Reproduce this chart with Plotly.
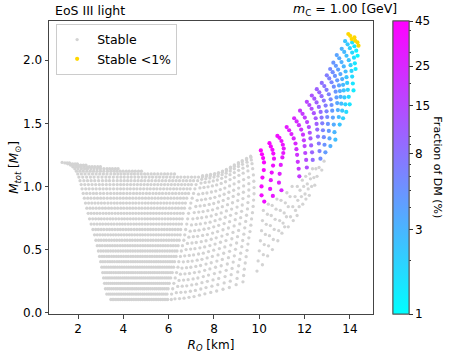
import numpy as np
import plotly.graph_objects as go

# ── Datos ─────────────────────────────────────────────────────────────────────
# Niveles de masa (filas) compartidos por las columnas de la parte izquierda
LEVELS = [1.190, 1.186, 1.179, 1.169, 1.156, 1.140, 1.121, 1.099, 1.074, 1.046,
          1.015, 0.981, 0.945, 0.907, 0.868, 0.828, 0.787, 0.744, 0.702, 0.659,
          0.617, 0.574, 0.531, 0.489, 0.446, 0.404, 0.361, 0.318, 0.276, 0.233,
          0.190, 0.148, 0.105]

# índice de nivel donde empieza cada columna y radios R_O de sus puntos
FAN_START = [0, 1, 2, 3, 4, 4, 5, 5, 6, 6, 6, 7, 7, 7, 7, 8, 8,
             1, 2, 3, 4, 4, 5, 5, 6, 6, 6, 7, 7, 7, 7, 8, 8, 8]
FAN_R = [
    [1.30, 1.42, 1.55, 1.67, 1.77, 1.86, 1.93, 1.99, 2.04, 2.09, 2.14, 2.18, 2.23, 2.28, 2.33, 2.39, 2.45,
     2.51, 2.58, 2.66, 2.73, 2.79, 2.85, 2.90, 2.95, 3.00, 3.05, 3.09, 3.13, 3.17, 3.21, 3.27, 3.45],
    [1.62, 1.76, 1.90, 2.02, 2.15, 2.23, 2.31, 2.38, 2.42, 2.46, 2.49, 2.53, 2.57, 2.61, 2.66, 2.71,
     2.78, 2.84, 2.90, 2.97, 3.02, 3.07, 3.12, 3.16, 3.20, 3.25, 3.28, 3.32, 3.35, 3.38, 3.44, 3.56],
    [1.97, 2.12, 2.26, 2.42, 2.54, 2.64, 2.71, 2.74, 2.78, 2.80, 2.82, 2.86, 2.89, 2.94, 2.97,
     3.03, 3.09, 3.14, 3.20, 3.25, 3.30, 3.33, 3.37, 3.41, 3.45, 3.47, 3.50, 3.53, 3.56, 3.60, 3.72],
    [2.35, 2.50, 2.71, 2.84, 2.96, 3.06, 3.08, 3.09, 3.11, 3.13, 3.14, 3.17, 3.21, 3.24, 3.29,
     3.34, 3.39, 3.44, 3.48, 3.52, 3.55, 3.58, 3.61, 3.64, 3.67, 3.69, 3.71, 3.73, 3.77, 3.88],
    [2.74, 2.99, 3.14, 3.28, 3.39, 3.39, 3.41, 3.41, 3.44, 3.44, 3.46, 3.48, 3.50, 3.54, 3.59,
     3.63, 3.67, 3.71, 3.74, 3.77, 3.79, 3.82, 3.84, 3.86, 3.87, 3.89, 3.90, 3.93, 4.04],
    [2.99, 3.28, 3.45, 3.61, 3.73, 3.73, 3.73, 3.73, 3.73, 3.72, 3.73, 3.75, 3.77, 3.80, 3.84,
     3.87, 3.91, 3.94, 3.97, 3.99, 4.01, 4.02, 4.04, 4.05, 4.06, 4.07, 4.08, 4.10, 4.20],
    [3.52, 3.72, 3.90, 4.04, 4.04, 4.02, 4.02, 4.01, 4.00, 4.00, 4.02, 4.03, 4.05, 4.08, 4.11,
     4.15, 4.17, 4.19, 4.20, 4.22, 4.22, 4.24, 4.24, 4.24, 4.24, 4.25, 4.27, 4.36],
    [3.77, 3.99, 4.20, 4.35, 4.34, 4.32, 4.31, 4.30, 4.28, 4.28, 4.29, 4.29, 4.31, 4.33, 4.35,
     4.38, 4.40, 4.41, 4.42, 4.43, 4.43, 4.44, 4.43, 4.43, 4.42, 4.42, 4.43, 4.52],
    [4.26, 4.49, 4.67, 4.65, 4.62, 4.60, 4.59, 4.56, 4.55, 4.55, 4.55, 4.56, 4.58, 4.60, 4.62,
     4.63, 4.63, 4.64, 4.64, 4.63, 4.63, 4.63, 4.61, 4.60, 4.59, 4.60, 4.68],
    [4.53, 4.79, 4.98, 4.95, 4.92, 4.90, 4.87, 4.84, 4.83, 4.82, 4.81, 4.82, 4.83, 4.84, 4.85,
     4.86, 4.86, 4.85, 4.85, 4.84, 4.83, 4.82, 4.80, 4.78, 4.77, 4.76, 4.84],
    [4.80, 5.08, 5.29, 5.26, 5.22, 5.19, 5.16, 5.12, 5.10, 5.09, 5.07, 5.07, 5.08, 5.08, 5.09,
     5.09, 5.08, 5.07, 5.06, 5.04, 5.03, 5.01, 4.98, 4.96, 4.94, 4.93, 5.00],
    [5.37, 5.60, 5.57, 5.52, 5.48, 5.45, 5.40, 5.37, 5.36, 5.33, 5.33, 5.33, 5.32, 5.33, 5.32,
     5.30, 5.29, 5.27, 5.24, 5.23, 5.20, 5.17, 5.14, 5.11, 5.10, 5.16],
    [5.67, 5.91, 5.87, 5.82, 5.78, 5.73, 5.68, 5.65, 5.63, 5.59, 5.58, 5.58, 5.56, 5.56, 5.55,
     5.53, 5.50, 5.48, 5.45, 5.43, 5.39, 5.35, 5.32, 5.29, 5.26, 5.32],
    [5.96, 6.23, 6.18, 6.12, 6.07, 6.02, 5.96, 5.92, 5.89, 5.85, 5.84, 5.83, 5.81, 5.80, 5.78,
     5.75, 5.72, 5.69, 5.65, 5.62, 5.59, 5.54, 5.50, 5.46, 5.43, 5.48],
    [6.26, 6.54, 6.48, 6.42, 6.36, 6.31, 6.24, 6.20, 6.16, 6.11, 6.09, 6.08, 6.05, 6.03, 6.01,
     5.97, 5.94, 5.90, 5.86, 5.82, 5.78, 5.72, 5.68, 5.63, 5.59, 5.64],
    [6.85, 6.79, 6.72, 6.66, 6.60, 6.52, 6.47, 6.43, 6.38, 6.35, 6.33, 6.29, 6.27, 6.24, 6.20,
     6.16, 6.12, 6.06, 6.02, 5.97, 5.91, 5.86, 5.81, 5.76, 5.80],
    [7.16, 7.10, 7.01, 6.95, 6.88, 6.80, 6.74, 6.70, 6.64, 6.60, 6.57, 6.53, 6.51, 6.47, 6.42,
     6.37, 6.33, 6.26, 6.22, 6.16, 6.09, 6.03, 5.98, 5.93, 5.96],
    # columnas intermedias
    [1.52, 1.66, 1.79, 1.90, 2.00, 2.08, 2.15, 2.21, 2.26, 2.30, 2.34, 2.38, 2.43, 2.47, 2.53, 2.58,
     2.65, 2.71, 2.78, 2.85, 2.91, 2.96, 3.01, 3.06, 3.10, 3.15, 3.19, 3.23, 3.26, 3.30, 3.36, 3.51],
    [1.87, 2.01, 2.14, 2.29, 2.39, 2.48, 2.55, 2.58, 2.62, 2.65, 2.68, 2.72, 2.75, 2.80, 2.84,
     2.91, 2.97, 3.02, 3.09, 3.14, 3.19, 3.23, 3.27, 3.31, 3.35, 3.38, 3.41, 3.44, 3.47, 3.52, 3.64],
    [2.24, 2.38, 2.57, 2.69, 2.80, 2.89, 2.91, 2.94, 2.96, 2.98, 3.00, 3.03, 3.08, 3.11, 3.16,
     3.22, 3.27, 3.32, 3.37, 3.41, 3.44, 3.48, 3.51, 3.55, 3.57, 3.60, 3.62, 3.65, 3.69, 3.80],
    [2.62, 2.85, 2.99, 3.12, 3.23, 3.24, 3.25, 3.26, 3.29, 3.29, 3.32, 3.35, 3.37, 3.42, 3.47,
     3.51, 3.56, 3.60, 3.63, 3.66, 3.69, 3.72, 3.74, 3.77, 3.78, 3.80, 3.82, 3.85, 3.96],
    [2.87, 3.14, 3.30, 3.45, 3.56, 3.56, 3.57, 3.57, 3.59, 3.58, 3.60, 3.62, 3.64, 3.67, 3.72,
     3.75, 3.79, 3.83, 3.86, 3.88, 3.90, 3.92, 3.94, 3.96, 3.97, 3.98, 3.99, 4.02, 4.12],
    [3.40, 3.59, 3.76, 3.89, 3.89, 3.88, 3.88, 3.87, 3.86, 3.87, 3.89, 3.90, 3.93, 3.96, 3.99,
     4.03, 4.06, 4.08, 4.10, 4.12, 4.12, 4.14, 4.15, 4.15, 4.16, 4.17, 4.19, 4.28],
    [3.65, 3.86, 4.05, 4.20, 4.19, 4.17, 4.17, 4.16, 4.14, 4.14, 4.16, 4.16, 4.18, 4.21, 4.23,
     4.27, 4.29, 4.30, 4.31, 4.33, 4.33, 4.34, 4.34, 4.34, 4.33, 4.34, 4.35, 4.44],
    [4.13, 4.35, 4.51, 4.50, 4.47, 4.46, 4.45, 4.42, 4.42, 4.42, 4.42, 4.44, 4.46, 4.48, 4.50,
     4.52, 4.52, 4.53, 4.54, 4.53, 4.54, 4.53, 4.52, 4.51, 4.51, 4.52, 4.60],
    [4.40, 4.64, 4.83, 4.80, 4.77, 4.75, 4.73, 4.70, 4.69, 4.69, 4.68, 4.69, 4.71, 4.72, 4.74,
     4.75, 4.75, 4.75, 4.75, 4.74, 4.73, 4.73, 4.71, 4.69, 4.68, 4.68, 4.76],
    [4.67, 4.94, 5.14, 5.11, 5.07, 5.05, 5.02, 4.98, 4.97, 4.96, 4.94, 4.95, 4.96, 4.96, 4.97,
     4.98, 4.97, 4.96, 4.96, 4.94, 4.93, 4.92, 4.89, 4.87, 4.86, 4.85, 4.92],
    [5.23, 5.45, 5.42, 5.37, 5.34, 5.31, 5.26, 5.24, 5.23, 5.20, 5.20, 5.21, 5.20, 5.21, 5.21,
     5.19, 5.18, 5.17, 5.14, 5.13, 5.11, 5.08, 5.05, 5.03, 5.02, 5.08],
    [5.52, 5.76, 5.72, 5.67, 5.63, 5.59, 5.54, 5.51, 5.50, 5.46, 5.46, 5.46, 5.44, 5.45, 5.44,
     5.42, 5.40, 5.38, 5.35, 5.33, 5.30, 5.26, 5.23, 5.20, 5.18, 5.24],
    [5.82, 6.07, 6.03, 5.97, 5.93, 5.88, 5.82, 5.79, 5.76, 5.72, 5.71, 5.71, 5.69, 5.68, 5.67,
     5.64, 5.61, 5.59, 5.55, 5.53, 5.49, 5.45, 5.41, 5.38, 5.35, 5.40],
    [6.11, 6.39, 6.33, 6.27, 6.22, 6.17, 6.10, 6.06, 6.03, 5.98, 5.97, 5.96, 5.93, 5.92, 5.90,
     5.86, 5.83, 5.80, 5.76, 5.72, 5.69, 5.63, 5.59, 5.55, 5.51, 5.56],
    [6.70, 6.64, 6.57, 6.51, 6.46, 6.38, 6.34, 6.30, 6.25, 6.22, 6.21, 6.17, 6.15, 6.13, 6.09,
     6.05, 6.01, 5.96, 5.92, 5.88, 5.82, 5.77, 5.72, 5.68, 5.72],
    [7.01, 6.95, 6.87, 6.81, 6.74, 6.66, 6.61, 6.57, 6.51, 6.48, 6.45, 6.41, 6.39, 6.36, 6.31,
     6.27, 6.23, 6.16, 6.12, 6.07, 6.00, 5.95, 5.90, 5.85, 5.88],
    [7.32, 7.28, 7.21, 7.16, 7.10, 7.04, 6.98, 6.94, 6.88, 6.84, 6.80, 6.75, 6.71, 6.67, 6.61,
     6.56, 6.52, 6.45, 6.41, 6.35, 6.29, 6.23, 6.18, 6.13, 6.12],
]

# columnas de la zona central-derecha (gris)
MID_R = [
    [7.50, 7.49, 7.46, 7.43, 7.38, 7.32, 7.26, 7.20, 7.13, 7.07, 7.01, 6.95, 6.89, 6.83, 6.77, 6.71, 6.65, 6.59, 6.52, 6.46, 6.40, 6.34, 6.28],
    [7.68, 7.67, 7.64, 7.61, 7.56, 7.51, 7.45, 7.39, 7.33, 7.27, 7.21, 7.15, 7.09, 7.03, 6.97, 6.91, 6.85, 6.79, 6.72, 6.66, 6.60, 6.54, 6.48],
    [7.85, 7.84, 7.82, 7.79, 7.74, 7.69, 7.63, 7.58, 7.52, 7.46, 7.40, 7.34, 7.28, 7.22, 7.16, 7.10, 7.04, 6.98, 6.92, 6.86, 6.80, 6.74, 6.68],
    [8.03, 8.02, 8.00, 7.97, 7.93, 7.89, 7.84, 7.79, 7.73, 7.67, 7.62, 7.56, 7.50, 7.44, 7.38, 7.32, 7.26, 7.20, 7.14, 7.08, 7.02, 6.96, 6.90],
    [8.20, 8.19, 8.18, 8.15, 8.12, 8.08, 8.04, 7.99, 7.94, 7.88, 7.83, 7.77, 7.71, 7.65, 7.59, 7.53, 7.47, 7.41, 7.35, 7.29, 7.23, 7.18, 7.12],
    [8.38, 8.37, 8.36, 8.34, 8.32, 8.28, 8.25, 8.20, 8.16, 8.10, 8.05, 7.99, 7.94, 7.88, 7.82, 7.76, 7.70, 7.65, 7.59, 7.53, 7.47, 7.42, 7.36],
    [8.55, 8.55, 8.54, 8.52, 8.51, 8.48, 8.45, 8.41, 8.37, 8.32, 8.27, 8.21, 8.16, 8.10, 8.05, 7.99, 7.93, 7.88, 7.82, 7.76, 7.71, 7.65, 7.60],
    [8.73, 8.73, 8.72, 8.71, 8.71, 8.69, 8.66, 8.63, 8.60, 8.55, 8.50, 8.45, 8.40, 8.35, 8.29, 8.24, 8.18, 8.13, 8.07, 8.02, 7.96, 7.91, 7.86],
    [8.90, 8.90, 8.90, 8.90, 8.90, 8.89, 8.87, 8.85, 8.82, 8.78, 8.73, 8.69, 8.64, 8.59, 8.53, 8.48, 8.43, 8.37, 8.32, 8.27, 8.21, 8.17, 8.12],
    [9.08, 9.08, 9.08, 9.09, 9.10, 9.10, 9.09, 9.08, 9.05, 9.02, 8.98, 8.94, 8.89, 8.84, 8.79, 8.74, 8.69, 8.64, 8.59, 8.54, 8.49, 8.45, 8.40],
    [9.25, 9.25, 9.26, 9.28, 9.29, 9.31, 9.31, 9.30, 9.28, 9.25, 9.22, 9.18, 9.14, 9.09, 9.04, 9.00, 8.95, 8.90, 8.85, 8.80, 8.76, 8.72, 8.68],
    [9.44, 9.44, 9.46, 9.48, 9.50, 9.53, 9.54, 9.54, 9.53, 9.50, 9.48, 9.44, 9.40, 9.36, 9.32, 9.27, 9.23, 9.18, 9.14, 9.09, 9.05, 9.02, 8.98],
    [9.62, 9.63, 9.65, 9.68, 9.71, 9.74, 9.76, 9.77, 9.77, 9.75, 9.73, 9.70, 9.66, 9.63, 9.59, 9.54, 9.50, 9.46, 9.42, 9.38, 9.34, 9.31, 9.28],
]
MID_M = [
    [1.085, 1.075, 1.056, 1.027, 0.988, 0.939, 0.890, 0.841, 0.793, 0.744, 0.695, 0.646, 0.598, 0.549, 0.500, 0.451, 0.403, 0.354, 0.305, 0.256, 0.208, 0.159, 0.110],
    [1.090, 1.080, 1.061, 1.032, 0.992, 0.944, 0.894, 0.846, 0.797, 0.748, 0.699, 0.650, 0.602, 0.552, 0.504, 0.454, 0.406, 0.357, 0.308, 0.259, 0.210, 0.162, 0.112],
    [1.095, 1.085, 1.066, 1.036, 0.997, 0.948, 0.899, 0.850, 0.801, 0.752, 0.703, 0.654, 0.605, 0.556, 0.507, 0.458, 0.409, 0.360, 0.311, 0.262, 0.213, 0.164, 0.115],
    [1.102, 1.092, 1.074, 1.044, 1.004, 0.956, 0.906, 0.858, 0.808, 0.759, 0.710, 0.661, 0.612, 0.563, 0.514, 0.465, 0.416, 0.367, 0.318, 0.268, 0.220, 0.170, 0.122],
    [1.110, 1.100, 1.081, 1.051, 1.012, 0.963, 0.914, 0.865, 0.815, 0.766, 0.717, 0.668, 0.619, 0.570, 0.521, 0.472, 0.423, 0.374, 0.324, 0.275, 0.226, 0.177, 0.128],
    [1.122, 1.112, 1.093, 1.064, 1.024, 0.975, 0.926, 0.877, 0.828, 0.778, 0.729, 0.680, 0.631, 0.582, 0.532, 0.484, 0.434, 0.385, 0.336, 0.286, 0.238, 0.188, 0.139],
    [1.135, 1.125, 1.105, 1.076, 1.037, 0.987, 0.938, 0.889, 0.840, 0.790, 0.741, 0.692, 0.643, 0.593, 0.544, 0.495, 0.446, 0.396, 0.347, 0.298, 0.249, 0.199, 0.150],
    [1.152, 1.142, 1.122, 1.093, 1.054, 1.004, 0.954, 0.905, 0.856, 0.806, 0.756, 0.706, 0.657, 0.607, 0.558, 0.508, 0.458, 0.409, 0.360, 0.310, 0.260, 0.210, 0.161],
    [1.170, 1.160, 1.140, 1.110, 1.070, 1.020, 0.970, 0.921, 0.871, 0.821, 0.771, 0.721, 0.671, 0.621, 0.571, 0.521, 0.471, 0.422, 0.372, 0.322, 0.272, 0.222, 0.172],
    [1.188, 1.178, 1.158, 1.128, 1.088, 1.037, 0.987, 0.938, 0.888, 0.837, 0.787, 0.737, 0.687, 0.636, 0.586, 0.536, 0.486, 0.436, 0.386, 0.336, 0.286, 0.236, 0.186],
    [1.205, 1.195, 1.175, 1.145, 1.105, 1.054, 1.004, 0.954, 0.904, 0.853, 0.803, 0.753, 0.703, 0.652, 0.602, 0.552, 0.502, 0.451, 0.401, 0.351, 0.301, 0.250, 0.200],
    [1.222, 1.212, 1.192, 1.162, 1.123, 1.072, 1.022, 0.972, 0.923, 0.872, 0.822, 0.772, 0.723, 0.672, 0.622, 0.572, 0.523, 0.472, 0.422, 0.372, 0.323, 0.272, 0.222],
    [1.240, 1.230, 1.210, 1.180, 1.141, 1.091, 1.041, 0.991, 0.942, 0.892, 0.842, 0.792, 0.743, 0.693, 0.643, 0.593, 0.544, 0.494, 0.444, 0.394, 0.345, 0.295, 0.245],
]

# arcos coloreados (fracción de DM en %)
ARC_R = [
    [10.07, 10.12, 10.17, 10.21, 10.20, 10.14, 10.10, 10.10, 10.22],
    [10.45, 10.51, 10.58, 10.62, 10.65, 10.61, 10.55, 10.51, 10.48, 10.60],
    [10.80, 10.89, 10.98, 11.04, 11.08, 11.06, 11.02, 10.95, 10.90, 10.87, 10.98],
    [11.21, 11.32, 11.42, 11.52, 11.60, 11.64, 11.67, 11.70, 11.74, 11.77],
    [11.54, 11.65, 11.75, 11.85, 11.93, 11.97, 12.00, 12.03, 12.07, 12.10],
    [11.80, 11.91, 12.01, 12.11, 12.19, 12.23, 12.26, 12.29, 12.33, 12.36],
    [12.10, 12.21, 12.31, 12.41, 12.49, 12.53, 12.56, 12.59, 12.63, 12.66, 12.70],
    [12.32, 12.43, 12.53, 12.63, 12.71, 12.75, 12.78, 12.81, 12.85, 12.88, 12.92],
    [12.54, 12.65, 12.75, 12.85, 12.93, 12.97, 13.00, 13.03, 13.07, 13.10, 13.14],
    [12.76, 12.87, 12.97, 13.07, 13.15, 13.19, 13.22, 13.25, 13.29, 13.32, 13.36],
    [12.98, 13.09, 13.19, 13.29, 13.37, 13.41, 13.44, 13.47, 13.51, 13.55],
    [13.13, 13.24, 13.34, 13.44, 13.52, 13.56, 13.59, 13.62, 13.66, 13.70],
    [13.27, 13.38, 13.48, 13.58, 13.66, 13.70, 13.73, 13.76, 13.80, 13.84],
    [13.42, 13.53, 13.63, 13.73, 13.81, 13.85, 13.88, 13.91, 13.95, 13.99],
    [13.64, 13.75, 13.85, 13.95, 14.03, 14.07, 14.10, 14.13, 14.16],
    [13.79, 13.90, 14.00, 14.10, 14.18, 14.22, 14.25],
    [14.10, 14.20, 14.28, 14.34],
]
ARC_M = [
    [1.285, 1.255, 1.225, 1.190, 1.130, 1.070, 1.000, 0.930, 0.880],
    [1.343, 1.317, 1.290, 1.260, 1.220, 1.165, 1.110, 1.050, 0.980, 0.925],
    [1.400, 1.385, 1.360, 1.330, 1.300, 1.265, 1.230, 1.170, 1.100, 1.030, 0.970],
    [1.470, 1.445, 1.415, 1.380, 1.340, 1.295, 1.250, 1.195, 1.140, 1.080],
    [1.540, 1.515, 1.485, 1.450, 1.410, 1.365, 1.320, 1.265, 1.210, 1.150],
    [1.600, 1.575, 1.545, 1.510, 1.470, 1.425, 1.380, 1.325, 1.270, 1.210],
    [1.670, 1.645, 1.615, 1.580, 1.540, 1.495, 1.450, 1.395, 1.340, 1.280, 1.220],
    [1.720, 1.695, 1.665, 1.630, 1.590, 1.545, 1.500, 1.445, 1.390, 1.330, 1.270],
    [1.770, 1.745, 1.715, 1.680, 1.640, 1.595, 1.550, 1.495, 1.440, 1.380, 1.320],
    [1.820, 1.795, 1.765, 1.730, 1.690, 1.645, 1.600, 1.545, 1.490, 1.430, 1.370],
    [1.880, 1.855, 1.825, 1.790, 1.750, 1.705, 1.660, 1.605, 1.550, 1.490],
    [1.930, 1.905, 1.875, 1.840, 1.800, 1.755, 1.710, 1.655, 1.600, 1.540],
    [1.980, 1.955, 1.925, 1.890, 1.850, 1.805, 1.760, 1.705, 1.650, 1.590],
    [2.040, 2.015, 1.985, 1.950, 1.910, 1.865, 1.820, 1.765, 1.710, 1.650],
    [2.090, 2.065, 2.035, 2.000, 1.960, 1.915, 1.870, 1.815, 1.760],
    [2.150, 2.125, 2.095, 2.060, 2.020, 1.975, 1.930],
    [2.140, 2.110, 2.075, 2.035],
]
ARC_F = [
    [44, 43, 42, 41, 40, 39, 38, 37, 36],
    [40, 39, 38, 37, 36, 35, 34, 33, 32, 31],
    [36, 35, 34, 33, 32, 31, 30, 29, 28, 27, 26],
    [30, 29, 27, 26, 25, 23, 22, 21, 20, 19],
    [25, 24, 22, 21, 20, 18, 17, 16, 15, 14],
    [20, 19, 18, 17, 15, 14, 12, 11, 10, 9],
    [16, 15, 14, 13, 12, 11, 9.5, 8.5, 7.5, 6.5, 5.5],
    [13, 12, 11, 10, 9, 8, 7, 6.3, 5.6, 5, 4.4],
    [10.5, 10, 9, 8, 7.2, 6.4, 5.7, 5, 4.4, 3.8, 3.3],
    [8.5, 8, 7.2, 6.5, 5.8, 5.1, 4.5, 4, 3.5, 3, 2.6],
    [7, 6.5, 6, 5.4, 4.8, 4.2, 3.7, 3.2, 2.8, 2.4],
    [5.8, 5.4, 5, 4.5, 4, 3.5, 3.1, 2.7, 2.3, 2.0],
    [4.8, 4.5, 4.1, 3.7, 3.3, 2.9, 2.5, 2.2, 1.9, 1.7],
    [3.9, 3.6, 3.3, 3.0, 2.7, 2.4, 2.1, 1.9, 1.7, 1.5],
    [3.1, 2.9, 2.6, 2.4, 2.1, 1.9, 1.7, 1.5, 1.35],
    [2.4, 2.2, 2.0, 1.8, 1.6, 1.45, 1.3],
    [1.6, 1.45, 1.3, 1.15],
]

# puntos grises bajo la zona coloreada
TAIL_R = [
    [10.18, 10.14, 10.10, 10.05, 10.00, 9.95, 9.90],
    [10.40, 10.36, 10.31, 10.27, 10.22, 10.18, 10.14],
    [10.57, 10.53, 10.49, 10.45, 10.41, 10.37],
    [10.78, 10.74, 10.70, 10.66, 10.62, 10.58],
    [10.96, 10.93, 10.90, 10.86, 10.82],
    [11.22, 11.15, 11.10, 11.05, 11.00],
    [11.45, 11.36, 11.28, 11.20, 11.12],
    [11.68, 11.58, 11.48, 11.38, 11.28],
    [11.90, 11.80, 11.70, 11.60, 11.50],
    [12.05, 11.96, 11.86, 11.76, 11.67],
    [12.22, 12.12, 12.02, 11.92],
    [12.35, 12.26, 12.16, 12.06],
    [12.50, 12.41, 12.31, 12.21],
    [12.64, 12.55, 12.45],
    [12.86, 12.76],
]
TAIL_M = [
    [0.81, 0.73, 0.65, 0.57, 0.49, 0.41, 0.33],
    [0.86, 0.78, 0.70, 0.62, 0.54, 0.46, 0.38],
    [0.85, 0.77, 0.69, 0.61, 0.53, 0.45],
    [0.90, 0.82, 0.74, 0.66, 0.58, 0.50],
    [0.89, 0.81, 0.73, 0.65, 0.57],
    [0.95, 0.87, 0.79, 0.71, 0.63],
    [1.00, 0.92, 0.84, 0.76, 0.68],
    [1.00, 0.92, 0.84, 0.76, 0.68],
    [1.05, 0.97, 0.89, 0.81, 0.73],
    [1.08, 1.00, 0.92, 0.84, 0.77],
    [1.10, 1.02, 0.94, 0.86],
    [1.14, 1.06, 0.98, 0.90],
    [1.14, 1.07, 1.00, 0.93],
    [1.15, 1.08, 1.01],
    [1.20, 1.13],
]

# configuraciones estables con fracción < 1 %
YELLOW_R = [13.93, 14.01, 14.08, 14.20, 14.23, 14.33, 14.38]
YELLOW_M = [2.207, 2.193, 2.167, 2.180, 2.154, 2.141, 2.115]

CB_TICKS = [1, 3, 8, 15, 25, 45]
CB_MINOR = [2, 4, 5, 6, 7, 9, 10, 20, 30, 40]
F_MAX = 45

FONT = "DejaVu Sans"
CSCALE = [[0, "#00ffff"], [1, "#ff00ff"]]


def colorbar(tickvals, ticktext, ticklen):
    return dict(
        x=1.062, xanchor="left", y=0.5, yanchor="middle",
        len=1, lenmode="fraction", thickness=16, xpad=0, ypad=0,
        outlinecolor="#555", outlinewidth=1,
        tickvals=np.log10(tickvals), ticktext=ticktext,
        ticks="outside", ticklen=ticklen, tickcolor="#333",
        tickfont=dict(size=12, color="black"),
    )


def main():
    gray_r, gray_m = [], []
    for start, rs in zip(FAN_START, FAN_R):
        gray_r += rs
        gray_m += LEVELS[start:start + len(rs)]
    for rs, ms in zip(MID_R + TAIL_R, MID_M + TAIL_M):
        gray_r += rs
        gray_m += ms

    col_r, col_m, col_f = [], [], []
    for rs, ms, fs in zip(ARC_R, ARC_M, ARC_F):
        col_r += rs
        col_m += ms
        col_f += fs

    fig = go.Figure()

    fig.add_trace(go.Scatter(
        x=gray_r, y=gray_m, mode="markers", name="Stable",
        marker=dict(color="#d3d3d3", size=3.3, line_width=0),
    ))

    # escala secundaria invisible: sólo aporta las marcas menores de la barra
    fig.add_trace(go.Scatter(
        x=col_r[:1], y=col_m[:1], mode="markers", showlegend=False,
        hoverinfo="skip", opacity=0,
        marker=dict(color=np.log10(col_f[:1]), colorscale=CSCALE, size=1,
                    cmin=0, cmax=np.log10(F_MAX),
                    colorbar=colorbar(CB_MINOR, [""] * len(CB_MINOR), 2)),
    ))

    fig.add_trace(go.Scatter(
        x=col_r, y=col_m, mode="markers", showlegend=False,
        marker=dict(
            color=np.log10(col_f), size=4.2, line_width=0,
            colorscale=CSCALE, cmin=0, cmax=np.log10(F_MAX),
            colorbar=colorbar(CB_TICKS, [str(t) for t in CB_TICKS], 3.5),
        ),
    ))

    fig.add_trace(go.Scatter(
        x=YELLOW_R, y=YELLOW_M, mode="markers", name="Stable &lt;1%",
        marker=dict(color="#ffd700", size=4.2, line_width=0),
    ))

    axis = dict(showgrid=False, zeroline=False, showline=True, mirror=True,
                linecolor="#444", linewidth=1, ticks="outside", ticklen=3.5,
                tickcolor="#444", tickfont=dict(size=12, color="black"),
                automargin=False)

    fig.update_layout(
        template="none",
        width=449, height=356,
        margin=dict(l=49, r=76, t=21, b=42, autoexpand=False),
        paper_bgcolor="white", plot_bgcolor="white",
        font=dict(family=FONT, size=12, color="black"),
        xaxis=dict(range=[0.72, 15.02], tickvals=[2, 4, 6, 8, 10, 12, 14],
                   title=dict(text="<i>R</i><sub><i>O</i></sub> [km]", standoff=5,
                              font=dict(size=12)), **axis),
        yaxis=dict(range=[-0.01, 2.31], tickvals=[0, 0.5, 1.0, 1.5, 2.0],
                   tickformat=".1f",
                   title=dict(text="<i>M</i><sub><i>tot</i></sub> [<i>M</i><sub>\u2299</sub>]",
                              standoff=1, font=dict(size=12)), **axis),
        legend=dict(x=0.022, y=0.99, xanchor="left", yanchor="top",
                    bgcolor="white", bordercolor="#cccccc", borderwidth=1,
                    font=dict(size=12.5), tracegroupgap=0),
        annotations=[
            dict(text="EoS III light", x=0.011, y=1.0, xref="paper", yref="paper",
                 xanchor="left", yanchor="bottom", showarrow=False, yshift=1,
                 font=dict(size=12.5)),
            dict(text="<i>m</i><sub>C</sub> = 1.00 [GeV]", x=1.080, y=1.0,
                 xref="paper", yref="paper", xanchor="right", yanchor="bottom",
                 showarrow=False, yshift=1, font=dict(size=12.5)),
            dict(text="Fraction of DM (%)", x=1.198, y=0.5, xref="paper", yref="paper",
                 xanchor="center", yanchor="middle", textangle=90, showarrow=False,
                 font=dict(size=11)),
        ],
    )

    # el navegador añade 8 px de margen al <body>; se anula para que la figura empiece en (0, 0)
    fig.write_html("out.html", config={"displayModeBar": False},
                   post_script="document.body.style.margin = '0';")


if __name__ == "__main__":
    main()
